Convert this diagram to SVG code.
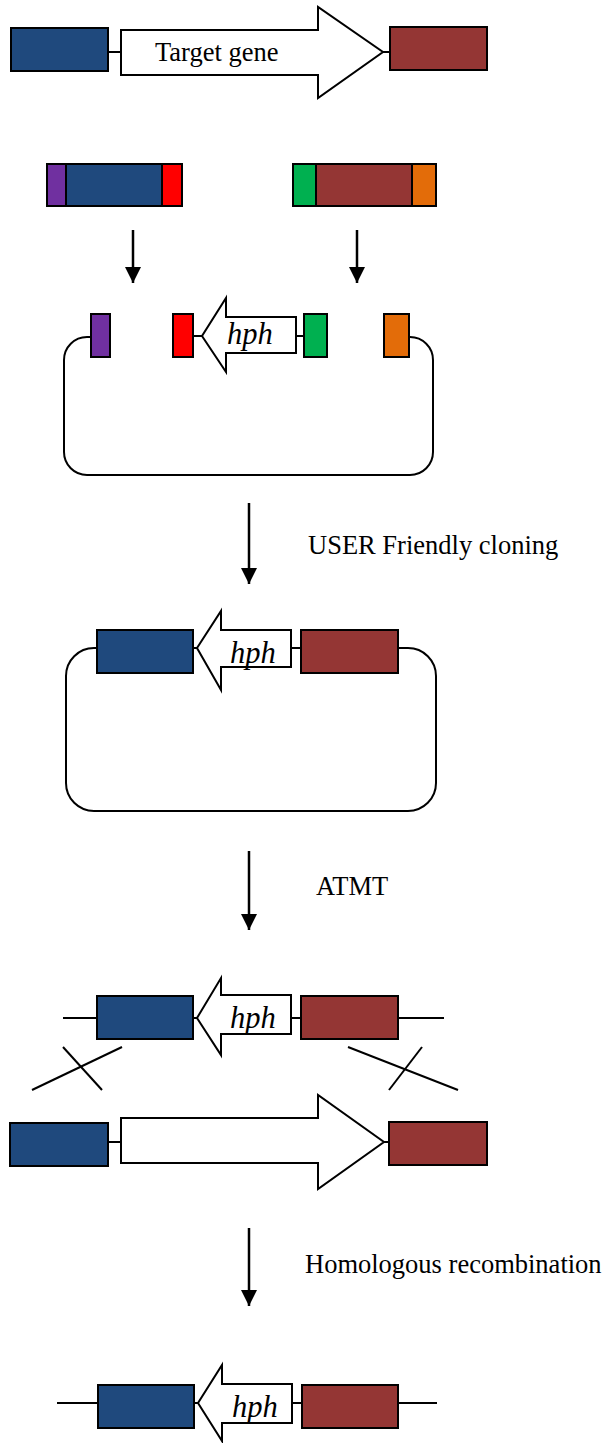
<svg xmlns="http://www.w3.org/2000/svg" width="611" height="1443" viewBox="0 0 611 1443">
<style>
.bx{stroke:#000;stroke-width:2}
.blue{fill:#1F497D}
.brown{fill:#943634}
.purple{fill:#7030A0}
.red{fill:#FF0000}
.green{fill:#00B050}
.orange{fill:#E36C09}
.ln{stroke:#000;stroke-width:2;fill:none}
.arr{fill:#fff;stroke:#000;stroke-width:2;stroke-linejoin:miter}
.lbl{font-family:"Liberation Serif","Times New Roman",serif;font-size:26.5px;fill:#000}
.hph{font-family:"Liberation Serif","Times New Roman",serif;font-size:30.5px;font-style:italic;fill:#000}
.flow{stroke:#000;stroke-width:2.5;fill:none}
</style>
<defs>
<marker id="ah" viewBox="0 0 10 10" refX="10" refY="5" markerWidth="6.4" markerHeight="6.4" markerUnits="strokeWidth" orient="auto">
<path d="M0,0 L10,5 L0,10 Z" fill="#000"/>
</marker>
</defs>

<g id="gene-top">
<line class="ln" x1="108" y1="52" x2="121" y2="52"/>
<line class="ln" x1="383" y1="52" x2="390" y2="52"/>
<rect class="bx blue" x="11" y="28" width="97" height="43"/>
<path class="arr" d="M121,30 H318 V7 L383,52 L318,98 V75 H121 Z"/>
<rect class="bx brown" x="390" y="27" width="97" height="43"/>
<text class="lbl" x="155" y="61">Target gene</text>
</g>

<g id="fragment-left">
<rect class="bx purple" x="47" y="164" width="19" height="42"/>
<rect class="bx blue" x="66" y="164" width="96" height="42"/>
<rect class="bx red" x="162" y="164" width="20" height="42"/>
</g>

<g id="fragment-right">
<rect class="bx green" x="293" y="164" width="23" height="42"/>
<rect class="bx brown" x="316" y="164" width="96" height="42"/>
<rect class="bx orange" x="412" y="164" width="24" height="42"/>
</g>

<g id="vector">
<path class="ln" d="M91,337 H87 A23,23 0 0 0 64,360 V452 A23,23 0 0 0 87,475 H410 A23,23 0 0 0 433,452 V360 A23,23 0 0 0 410,337 H409"/>
<line class="ln" x1="193" y1="336" x2="202" y2="336"/>
<line class="ln" x1="296" y1="336" x2="304" y2="336"/>
<rect class="bx purple" x="91" y="314" width="19" height="43"/>
<rect class="bx red" x="173" y="314" width="20" height="43"/>
<path class="arr" d="M296,317 H226 V298 L202,336 L226,372 V353 H296 Z"/>
<rect class="bx green" x="304" y="314" width="23" height="43"/>
<rect class="bx orange" x="384" y="314" width="25" height="43"/>
<text class="hph" x="227" y="344">hph</text>
</g>

<g id="construct">
<path class="ln" d="M97,648 H94 A28,28 0 0 0 66,676 V783 A28,28 0 0 0 94,811 H408 A28,28 0 0 0 436,783 V676 A28,28 0 0 0 408,648 H398"/>
<line class="ln" x1="193" y1="648" x2="197" y2="648"/>
<line class="ln" x1="291" y1="648" x2="301" y2="648"/>
<rect class="bx blue" x="97" y="630" width="96" height="43"/>
<path class="arr" d="M291,630 H221 V611 L197,648 L221,690 V667 H291 Z"/>
<rect class="bx brown" x="301" y="630" width="97" height="43"/>
<text class="hph" x="230" y="663">hph</text>
</g>

<g id="cassette">
<line class="ln" x1="63" y1="1018" x2="97" y2="1018"/>
<line class="ln" x1="193" y1="1018" x2="197" y2="1018"/>
<line class="ln" x1="291" y1="1018" x2="301" y2="1018"/>
<line class="ln" x1="398" y1="1018" x2="444" y2="1018"/>
<rect class="bx blue" x="97" y="996" width="96" height="43"/>
<path class="arr" d="M291,995 H221 V978 L197,1018 L221,1055 V1034 H291 Z"/>
<rect class="bx brown" x="301" y="996" width="97" height="43"/>
<text class="hph" x="230" y="1028">hph</text>
</g>

<g id="crossovers">
<line class="ln" x1="122" y1="1047" x2="32" y2="1090"/>
<line class="ln" x1="63" y1="1047" x2="102" y2="1090"/>
<line class="ln" x1="348" y1="1047" x2="458" y2="1090"/>
<line class="ln" x1="422" y1="1047" x2="389" y2="1090"/>
</g>

<g id="gene-genome">
<line class="ln" x1="108" y1="1142" x2="121" y2="1142"/>
<line class="ln" x1="384" y1="1142" x2="389" y2="1142"/>
<rect class="bx blue" x="10" y="1123" width="98" height="43"/>
<path class="arr" d="M121,1118 H318 V1095 L384,1142 L318,1189 V1163 H121 Z"/>
<rect class="bx brown" x="389" y="1122" width="98" height="43"/>
</g>

<g id="result">
<line class="ln" x1="57" y1="1403" x2="98" y2="1403"/>
<line class="ln" x1="194" y1="1403" x2="198" y2="1403"/>
<line class="ln" x1="292" y1="1403" x2="302" y2="1403"/>
<line class="ln" x1="398" y1="1403" x2="437" y2="1403"/>
<rect class="bx blue" x="98" y="1385" width="96" height="43"/>
<path class="arr" d="M292,1384 H222 V1365 L198,1403 L222,1441 V1423 H292 Z"/>
<rect class="bx brown" x="302" y="1385" width="96" height="43"/>
<text class="hph" x="232" y="1417">hph</text>
</g>

<g id="connectors">
<line class="flow" x1="133" y1="230" x2="133" y2="283" marker-end="url(#ah)"/>
<line class="flow" x1="357" y1="230" x2="357" y2="283" marker-end="url(#ah)"/>
<line class="flow" x1="249" y1="503" x2="249" y2="584" marker-end="url(#ah)"/>
<line class="flow" x1="249" y1="851" x2="249" y2="930" marker-end="url(#ah)"/>
<line class="flow" x1="249" y1="1228" x2="249" y2="1306" marker-end="url(#ah)"/>
<text class="lbl" x="308" y="554">USER Friendly cloning</text>
<text class="lbl" x="316" y="895">ATMT</text>
<text class="lbl" x="305" y="1273">Homologous recombination</text>
</g>
</svg>
